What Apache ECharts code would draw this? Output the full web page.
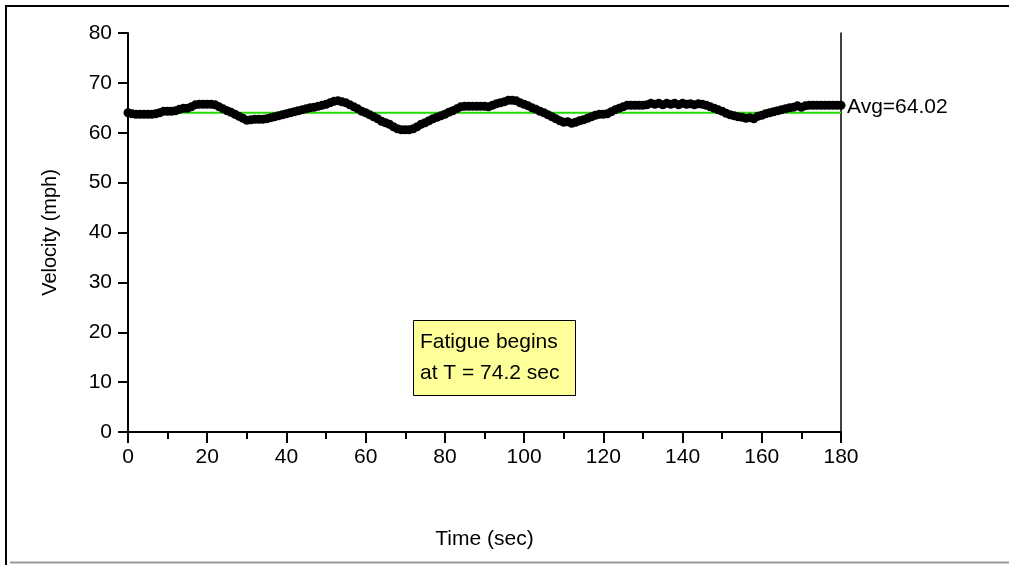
<!DOCTYPE html>
<html>
<head>
<meta charset="utf-8">
<script src="https://cdn.jsdelivr.net/npm/echarts@6/dist/echarts.min.js"></script>
<style>
html,body{margin:0;padding:0;background:#fff;}
#c{width:1009px;height:565px;}
</style>
</head>
<body>
<div id="c"></div>
<script>
// Time in seconds (1 s sampling)
const times = [];
for (let i = 0; i <= 180; i++) times.push(i);
// Velocity (mph)
const velocity = [
 64.0,63.8,63.7,63.7,63.7,63.7,63.7,63.8,64.0,64.3,
 64.3,64.3,64.4,64.7,64.9,64.9,65.2,65.6,65.7,65.7,
 65.7,65.7,65.6,65.2,64.8,64.4,64.1,63.7,63.3,62.9,
 62.5,62.6,62.7,62.7,62.7,62.8,63.0,63.2,63.4,63.6,
 63.8,64.0,64.2,64.4,64.6,64.8,65.0,65.1,65.3,65.5,
 65.7,66.0,66.3,66.4,66.2,66.0,65.6,65.2,64.8,64.3,
 64.0,63.6,63.2,62.8,62.3,62.0,61.7,61.2,60.8,60.6,
 60.6,60.6,60.8,61.2,61.7,62.0,62.4,62.8,63.1,63.4,
 63.7,64.1,64.4,64.8,65.2,65.3,65.3,65.3,65.3,65.3,
 65.3,65.2,65.5,65.8,66.0,66.2,66.5,66.5,66.4,66.0,
 65.7,65.4,65.0,64.7,64.3,64.0,63.6,63.2,62.8,62.4,
 62.1,62.2,61.9,62.1,62.4,62.6,62.9,63.2,63.5,63.7,
 63.7,63.8,64.2,64.6,64.9,65.2,65.5,65.5,65.5,65.5,
 65.5,65.6,65.9,65.7,65.9,65.6,65.9,65.7,65.9,65.6,
 65.9,65.7,65.8,65.6,65.8,65.7,65.5,65.2,64.9,64.6,
 64.3,63.9,63.6,63.4,63.2,63.1,62.9,63.0,62.8,63.3,
 63.5,63.8,64.0,64.2,64.4,64.6,64.8,65.0,65.1,65.4,
 65.1,65.4,65.5,65.5,65.5,65.5,65.5,65.5,65.5,65.5,
 65.5
];
const avgValue = 64.02;
const avgLabel = 'Avg=64.02';
const xTicks = [0,20,40,60,80,100,120,140,160,180];
const yTicks = [0,10,20,30,40,50,60,70,80];
const noteLines = ['Fatigue begins', 'at T = 74.2 sec'];
const xName = 'Time (sec)';
const yName = 'Velocity (mph)';

const FONT = '"Liberation Sans", Arial, sans-serif';
const chart = echarts.init(document.getElementById('c'), null, {renderer: 'canvas'});

const seriesData = times.map((t, i) => [t, velocity[i]]);

chart.setOption({
  animation: false,
  backgroundColor: '#fff',
  textStyle: {fontFamily: FONT},
  grid: {left: 128, right: 168, top: 33, bottom: 133, containLabel: false},
  xAxis: {
    type: 'value',
    min: xTicks[0], max: xTicks[xTicks.length - 1], interval: 20,
    name: xName, nameLocation: 'middle', nameGap: 97,
    nameTextStyle: {color: '#000', fontSize: 21, fontFamily: FONT},
    axisLine: {show: true, lineStyle: {color: '#000', width: 2}},
    axisTick: {show: true, length: 11, lineStyle: {color: '#000', width: 2}},
    minorTick: {show: true, splitNumber: 2, length: 7, lineStyle: {color: '#000', width: 2}},
    axisLabel: {color: '#000', fontSize: 21, fontFamily: FONT, margin: 15},
    splitLine: {show: false}
  },
  yAxis: [{
    type: 'value',
    min: yTicks[0], max: yTicks[yTicks.length - 1], interval: 10,
    name: yName, nameLocation: 'middle', nameGap: 68, nameRotate: 90,
    nameTextStyle: {color: '#000', fontSize: 20, fontFamily: FONT},
    axisLine: {show: true, lineStyle: {color: '#000', width: 2}},
    axisTick: {show: true, length: 10, lineStyle: {color: '#000', width: 2}},
    axisLabel: {color: '#000', fontSize: 21, fontFamily: FONT, margin: 16},
    splitLine: {show: false}
  }, {
    type: 'value', position: 'right',
    min: yTicks[0], max: yTicks[yTicks.length - 1], interval: 10,
    axisLine: {show: true, lineStyle: {color: '#000', width: 1.5}},
    axisTick: {show: false}, axisLabel: {show: false}, splitLine: {show: false}
  }],
  series: [{
    name: 'avg', type: 'line', z: 1,
    data: [[xTicks[0], avgValue], [xTicks[xTicks.length - 1], avgValue]],
    symbol: 'none',
    lineStyle: {color: '#22dd00', width: 2},
    endLabel: {show: true, formatter: avgLabel, color: '#000', fontSize: 21, fontFamily: FONT, distance: 6, offset: [0, -5]}
  }, {
    name: 'velocity', type: 'line', z: 3,
    data: seriesData,
    symbol: 'circle', symbolSize: 9,
    itemStyle: {color: '#000'},
    lineStyle: {color: '#000', width: 3.5},
    clip: false
  }],
  graphic: [
    {type: 'line', shape: {x1: 6, y1: 6, x2: 1009, y2: 6}, style: {stroke: '#000', lineWidth: 2}},
    {type: 'line', shape: {x1: 6, y1: 5, x2: 6, y2: 565}, style: {stroke: '#000', lineWidth: 2}},
    {type: 'line', shape: {x1: 10, y1: 562.5, x2: 1009, y2: 562.5}, style: {stroke: '#999', lineWidth: 2}},
    {type: 'rect', shape: {x: 413.5, y: 320.5, width: 162, height: 75}, style: {fill: '#ffff99', stroke: '#000', lineWidth: 1}, z: 10},
    {type: 'text', x: 420, y: 327, z: 11,
     style: {text: noteLines.join('\n'), font: '21px ' + FONT, fill: '#000', lineHeight: 31}}
  ]
});
</script>
</body>
</html>
